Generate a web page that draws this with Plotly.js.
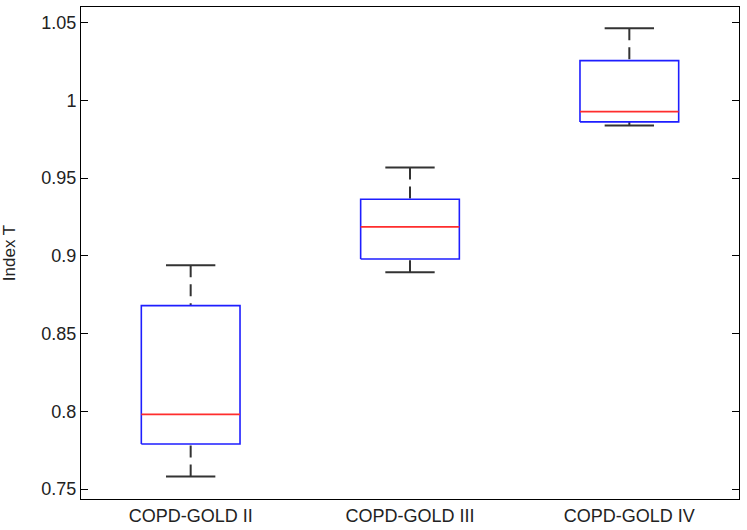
<!DOCTYPE html>
<html>
<head>
<meta charset="utf-8">
<script src="https://cdn.plot.ly/plotly-3.0.1.min.js"></script>
<style>
  html, body { margin: 0; padding: 0; background: #fff; }
  #chart { width: 747px; height: 530px; }
</style>
</head>
<body>
<div id="chart"></div>
<script>
// Box plot summary per group
const groups = ["COPD-GOLD II", "COPD-GOLD III", "COPD-GOLD IV"]
const lowerWhisker = [0.758, 0.8895, 0.9838]
const q1 = [0.779, 0.898, 0.9862]
const medians = [0.798, 0.9186, 0.9928]
const q3 = [0.868, 0.9364, 1.0256]
const upperWhisker = [0.894, 0.9568, 1.0464]

const yTickVals = [0.75, 0.8, 0.85, 0.9, 0.95, 1, 1.05]
const yTickText = ["0.75", "0.8", "0.85", "0.9", "0.95", "1", "1.05"]

const halfBox = 0.225
const halfCap = 0.1125
const font = "'Liberation Sans Narrow', 'Liberation Sans', Arial, sans-serif"

// build line paths from the summary arrays
const whiskerX = [], whiskerY = []
const capX = [], capY = []
const boxX = [], boxY = []
const medX = [], medY = []

groups.forEach((g, i) => {
  const x = i + 1
  whiskerX.push(x, x, null, x, x, null)
  whiskerY.push(upperWhisker[i], q3[i], null, lowerWhisker[i], q1[i], null)

  capX.push(x - halfCap, x + halfCap, null, x - halfCap, x + halfCap, null)
  capY.push(upperWhisker[i], upperWhisker[i], null, lowerWhisker[i], lowerWhisker[i], null)

  boxX.push(x - halfBox, x + halfBox, x + halfBox, x - halfBox, x - halfBox, null)
  boxY.push(q1[i], q1[i], q3[i], q3[i], q1[i], null)

  medX.push(x - halfBox, x + halfBox, null)
  medY.push(medians[i], medians[i], null)
})

const traces = [
  {
    x: whiskerX, y: whiskerY, type: "scatter", mode: "lines",
    line: { color: "#333", width: 2, dash: "12px,7px" },
  },
  {
    x: capX, y: capY, type: "scatter", mode: "lines",
    line: { color: "#333", width: 2 },
  },
  {
    x: boxX, y: boxY, type: "scatter", mode: "lines",
    line: { color: "rgb(30,30,255)", width: 1.6 },
  },
  {
    x: medX, y: medY, type: "scatter", mode: "lines",
    line: { color: "rgb(255,45,45)", width: 1.8 },
  },
]

const layout = {
  width: 747,
  height: 530,
  showlegend: false,
  hovermode: false,
  paper_bgcolor: "#fff",
  plot_bgcolor: "#fff",
  font: { family: font, size: 18, color: "#222" },
  margin: { l: 81, r: 8, t: 7, b: 31 },
  xaxis: {
    range: [0.5, 3.5],
    tickvals: [1, 2, 3],
    ticktext: groups,
    ticks: "",
    showgrid: false,
    zeroline: false,
    showline: true,
    mirror: true,
    linecolor: "#000",
    linewidth: 1,
  },
  yaxis: {
    range: [0.7436, 1.0601],
    tickvals: yTickVals,
    ticktext: yTickText,
    ticks: "inside",
    ticklen: 7,
    tickcolor: "#000",
    showgrid: false,
    zeroline: false,
    showline: true,
    mirror: "ticks",
    linecolor: "#000",
    linewidth: 1,
    title: { text: "Index T", font: { size: 17 }, standoff: 22 },
  },
}

Plotly.newPlot("chart", traces, layout, { displayModeBar: false, staticPlot: true })
</script>
</body>
</html>
